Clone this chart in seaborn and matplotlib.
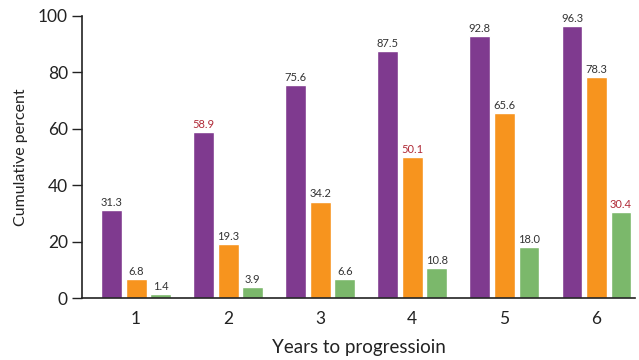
import matplotlib
matplotlib.use("Agg")
import matplotlib.pyplot as plt
import seaborn as sns
import pandas as pd

# Cumulative percent progressing, by year, for three groups
years = ["1", "2", "3", "4", "5", "6"]
group_a = [31.3, 58.9, 75.6, 87.5, 92.8, 96.3]
group_b = [6.8, 19.3, 34.2, 50.1, 65.6, 78.3]
group_c = [1.4, 3.9, 6.6, 10.8, 18.0, 30.4]
groups = ["A", "B", "C"]
colors = ["#7F3A8F", "#F7941E", "#7BB86B"]
# labels highlighted in red: (group index, year index)
highlight = {(0, 1), (1, 3), (2, 5)}

df = pd.DataFrame({
    "year": years * 3,
    "group": [g for g in groups for _ in years],
    "value": group_a + group_b + group_c,
})

sns.set_theme(style="white")
plt.rcParams["font.family"] = ["Lato", "DejaVu Sans"]

fig = plt.figure(figsize=(6.39, 3.6), dpi=100)
ax = fig.add_axes([0.128, 0.172, 0.866, 0.784])

sns.barplot(data=df, x="year", y="value", hue="group", order=years,
            hue_order=groups, palette=colors, width=0.8, gap=0.15,
            saturation=1, legend=False, ax=ax, errorbar=None)

for gi, cont in enumerate(ax.containers):
    labels = ax.bar_label(cont, fmt="%.1f", padding=1.5, fontsize=8,
                          color="#333333")
    for yi, txt in enumerate(labels):
        if (gi, yi) in highlight:
            txt.set_color("#B02A37")

ax.set_ylim(0, 100)
ax.set_xlim(-0.59, 5.42)
ax.set_yticks([0, 20, 40, 60, 80, 100])
ax.tick_params(axis="y", length=7, width=1, color="#222222", labelsize=12.5,
               labelcolor="#222222", pad=3, left=True)
ax.tick_params(axis="x", length=0, labelsize=12.5, labelcolor="#222222", pad=9)
ax.set_ylabel("Cumulative percent", fontsize=11.5, color="#222222", labelpad=7)
ax.set_xlabel("Years to progressioin", fontsize=13.5, color="#222222", labelpad=9)

sns.despine(ax=ax, top=True, right=True)
for s in ("left", "bottom"):
    ax.spines[s].set_color("#222222")
    ax.spines[s].set_linewidth(1.2)

fig.savefig("out.png", dpi=100)
